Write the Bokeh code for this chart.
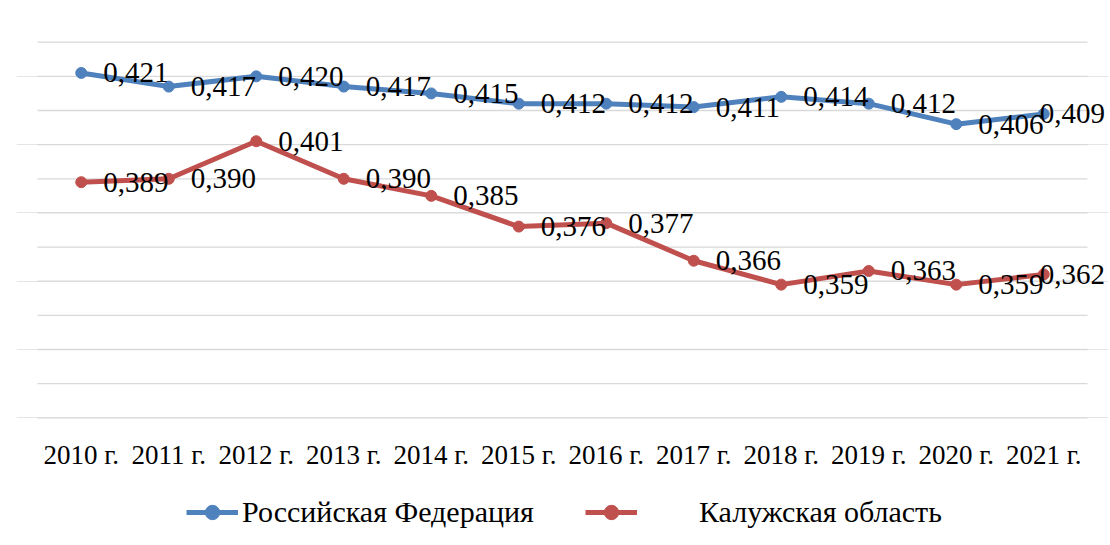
from bokeh.plotting import figure
from bokeh.layouts import column
from bokeh.models import (FactorRange, Range1d, ColumnDataSource,
                          LabelSet, Legend, LegendItem)
from bokeh.core.properties import value
from bokeh.embed import file_html
from bokeh.resources import INLINE

years = ["2010 г.", "2011 г.", "2012 г.", "2013 г.", "2014 г.", "2015 г.",
         "2016 г.", "2017 г.", "2018 г.", "2019 г.", "2020 г.", "2021 г."]
rf_values = [0.421, 0.417, 0.420, 0.417, 0.415, 0.412, 0.412, 0.411, 0.414, 0.412, 0.406, 0.409]
kaluga_values = [0.389, 0.390, 0.401, 0.390, 0.385, 0.376, 0.377, 0.366, 0.359, 0.363, 0.359, 0.362]
series_names = ["Российская Федерация", "Калужская область"]
y_ticks = [0.32, 0.33, 0.34, 0.35, 0.36, 0.37, 0.38, 0.39, 0.40, 0.41, 0.42, 0.43]

FONT = "Liberation Serif"
BLUE = "#4F81BD"
RED = "#C0504D"
COLORS = [BLUE, RED]
PAD = 0.24  # extra room (in category units) so end labels are not clipped

x_range = FactorRange(*years, range_padding=PAD, range_padding_units="absolute")
p = figure(width=1108, height=480, x_range=x_range,
           y_range=Range1d(0.3195, 0.4305), output_backend="svg", toolbar_location=None,
           y_axis_location=None, min_border_left=16, min_border_right=0,
           min_border_top=40, min_border_bottom=61)
p.outline_line_color = None
p.xgrid.visible = False

# horizontal gridlines spanning only the category area (synthetic coords 0..N)
p.segment(x0=0, x1=len(years), y0=y_ticks, y1=y_ticks,
          line_color="#D9D9D9", line_width=1.3)

p.xaxis.axis_line_color = None
p.xaxis.major_tick_line_color = None
p.xaxis.minor_tick_line_color = None
p.xaxis.major_label_text_font = FONT
p.xaxis.major_label_text_font_size = "27px"
p.xaxis.major_label_text_color = "#000000"
p.xaxis.major_label_standoff = 14

for vals, color in [(rf_values, BLUE), (kaluga_values, RED)]:
    n = len(vals)
    offsets = [22] * (n - 1) + [-4]
    src = ColumnDataSource(dict(x=years, y=vals,
                                txt=[("%.3f" % v).replace(".", ",") for v in vals],
                                xo=offsets))
    p.line("x", "y", source=src, line_color=color, line_width=5)
    p.scatter("x", "y", source=src, marker="circle", size=11,
              fill_color=color, line_color=color)
    labels = LabelSet(x="x", y="y", text="txt", source=src, x_offset="xo",
                      text_font=value(FONT), text_font_size="29px",
                      text_baseline="middle", text_align="left", text_color="#000000")
    p.add_layout(labels)

# legend strip below the chart (legend-only renderers sit outside the visible range)
lg = figure(width=1108, height=65, x_range=Range1d(0, 1), y_range=Range1d(0, 1),
            output_backend="svg", toolbar_location=None,
            x_axis_location=None, y_axis_location=None,
            min_border_left=0, min_border_right=0, min_border_top=0, min_border_bottom=0)
lg.outline_line_color = None
lg.xgrid.visible = False
lg.ygrid.visible = False

legend_x = [170, 569]
standoffs = [4, 62]
for name, color, lx, so in zip(series_names, COLORS, legend_x, standoffs):
    dummy = ColumnDataSource(dict(x=[-10, -9], y=[-10, -10]))
    r1 = lg.line("x", "y", source=dummy, line_color=color, line_width=5)
    r2 = lg.scatter("x", "y", source=dummy, marker="circle", size=11,
                    fill_color=color, line_color=color)
    leg = Legend(items=[LegendItem(label=name, renderers=[r1, r2])],
                 location=(lx, 15), orientation="horizontal",
                 label_text_font=FONT, label_text_font_size="30px",
                 label_text_color="#000000", label_height=36, glyph_height=36,
                 glyph_width=52, label_standoff=so,
                 border_line_color=None, background_fill_alpha=0, padding=0, margin=0)
    lg.add_layout(leg)

layout = column(p, lg, spacing=0)
open("out.html", "w").write(file_html(layout, INLINE))
